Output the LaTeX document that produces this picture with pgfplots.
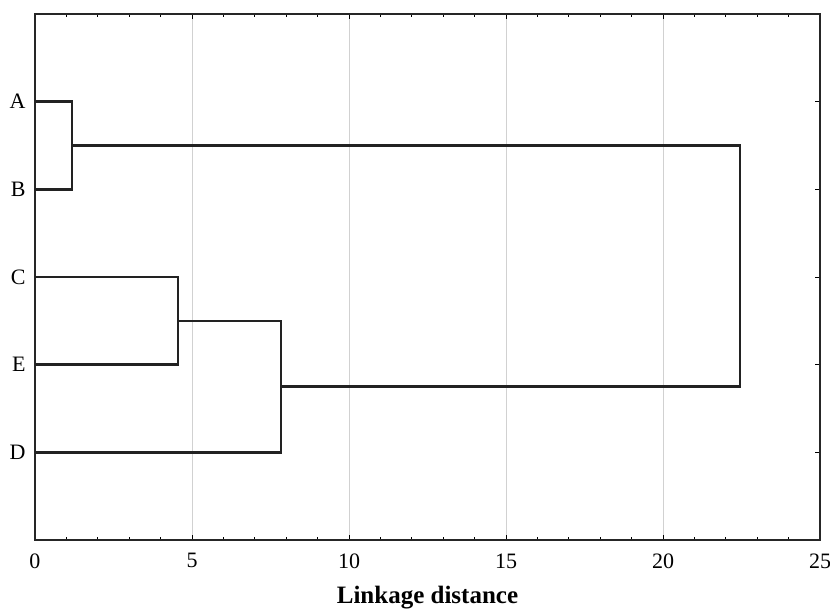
\documentclass[border=0pt]{standalone}
\usepackage{pgfplots}
\pgfplotsset{compat=1.18}
\usepackage{fontspec}
\setmainfont{Liberation Serif}
\definecolor{lnk}{HTML}{222222}
\begin{document}
\begin{tikzpicture}
\path[use as bounding box] (-35pt,-70pt) rectangle (795pt,540pt);
\begin{axis}[
  at={(0,0)}, anchor=south west,
  scale only axis,
  width=785pt, height=526pt,
  xmin=0, xmax=25, ymin=0, ymax=6,
  xtick={0,5,10,15,20,25},
  minor x tick num=4,
  ytick={1,2,3,4,5},
  yticklabels={D,E,C,B,A},
  xmajorgrids,
  major grid style={draw=black!18, line width=0.8pt},
  tick align=inside,
  xtick pos=both, ytick pos=right,
  xticklabel pos=lower, yticklabel pos=left,
  major tick length=5pt, minor tick length=3pt,
  tick style={black, line width=0.8pt},
  axis line style={line width=1.2pt, black!85},
  /pgf/number format/assume math mode=true,
  ticklabel style={font=\fontsize{22}{24}\selectfont},
  yticklabel style={xshift=-6pt},
  xticklabel style={yshift=-10pt},
  xlabel={\textbf{Linkage distance}},
  xlabel style={font=\fontsize{25}{27}\selectfont, yshift=-11pt},
  clip=false,
]
\addplot[lnk, line width=2.6pt, no marks] coordinates {(0,5) (1.18,5) (1.18,4) (0,4)};
\addplot[lnk, line width=2.6pt, no marks] coordinates {(1.18,4.5) (22.45,4.5) (22.45,1.75) (7.83,1.75)};
\addplot[lnk, line width=2.6pt, no marks] coordinates {(0,3) (4.55,3) (4.55,2) (0,2)};
\addplot[lnk, line width=2.6pt, no marks] coordinates {(4.55,2.5) (7.83,2.5) (7.83,1) (0,1)};
\end{axis}
\end{tikzpicture}
\end{document}
